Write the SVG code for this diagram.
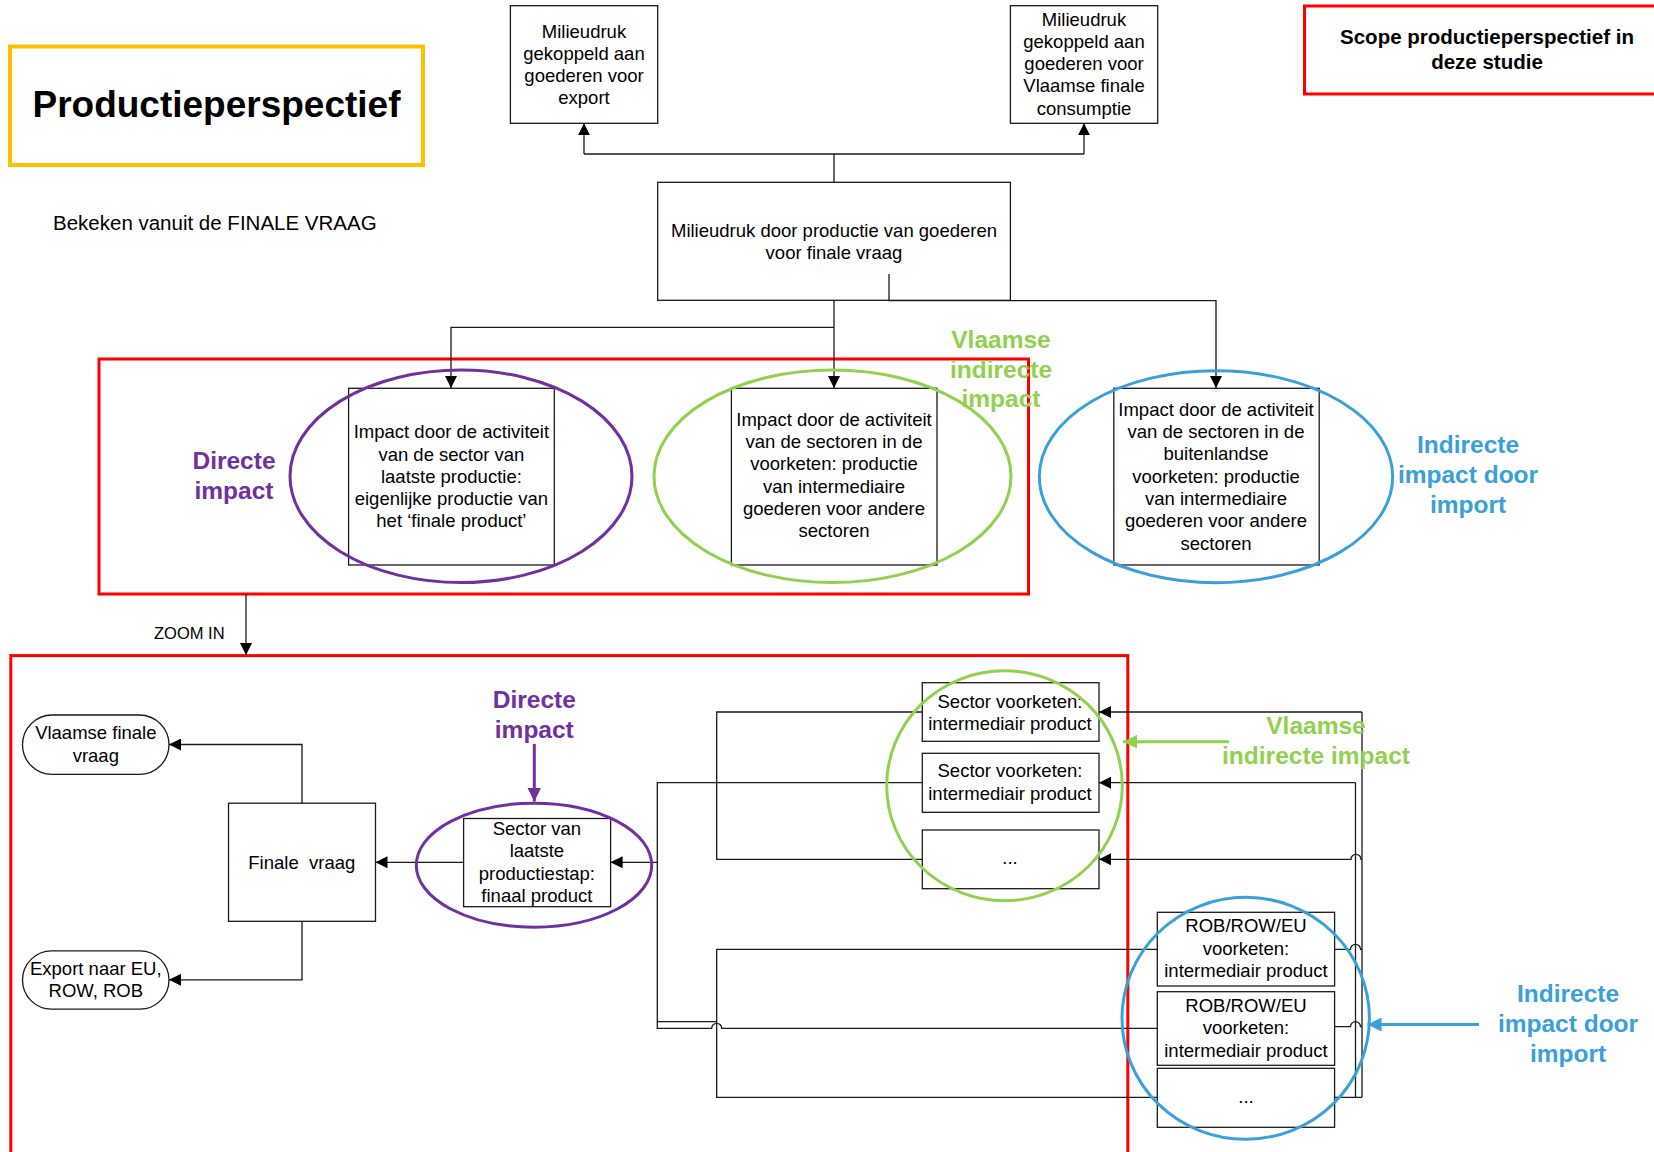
<svg xmlns="http://www.w3.org/2000/svg" width="1654" height="1152" viewBox="0 0 1654 1152">
<style>
.box{fill:#fff;stroke:#1a1a1a;stroke-width:1.3}
.t{font-family:"Liberation Sans",Arial,sans-serif;font-size:18.5px;text-anchor:middle;fill:#000}
.lb{font-family:"Liberation Sans",Arial,sans-serif;font-size:24.5px;font-weight:bold;text-anchor:middle}
.pu{fill:#7030A0}.gr{fill:#92D050}.bl{fill:#3AA0DA}
.ln{fill:none;stroke:#1a1a1a;stroke-width:1.3}
.red{fill:none;stroke:#FF0000;stroke-width:3}
.ell{fill:none;stroke-width:3}
</style>
<defs>
<marker id="ah" markerUnits="userSpaceOnUse" markerWidth="12" markerHeight="12" viewBox="0 0 10 10" refX="10" refY="5" orient="auto"><path d="M0,0 L10,5 L0,10 Z" fill="#000"/></marker>
<marker id="ahp" markerUnits="userSpaceOnUse" markerWidth="14" markerHeight="14" viewBox="0 0 10 10" refX="10" refY="5" orient="auto"><path d="M0,0 L10,5 L0,10 Z" fill="#7030A0"/></marker>
<marker id="ahg" markerUnits="userSpaceOnUse" markerWidth="14" markerHeight="14" viewBox="0 0 10 10" refX="10" refY="5" orient="auto"><path d="M0,0 L10,5 L0,10 Z" fill="#92D050"/></marker>
<marker id="ahb" markerUnits="userSpaceOnUse" markerWidth="14" markerHeight="14" viewBox="0 0 10 10" refX="10" refY="5" orient="auto"><path d="M0,0 L10,5 L0,10 Z" fill="#3AA0DA"/></marker>
</defs>
<rect width="1654" height="1152" fill="#fff"/>

<g id="title">
<rect x="10" y="46.5" width="413" height="118.5" fill="none" stroke="#FFC000" stroke-width="4"/>
<text x="216.5" y="117" style="font-family:'Liberation Sans',Arial,sans-serif;font-size:37px;font-weight:bold;text-anchor:middle">Productieperspectief</text>
</g>
<g id="subtitle">
<text x="53" y="230" style="font-family:'Liberation Sans',Arial,sans-serif;font-size:20.5px">Bekeken vanuit de FINALE VRAAG</text>
</g>
<g id="scope">
<rect x="1304.5" y="6" width="352" height="88" class="red"/>
<text x="1487" y="44" style="font-family:'Liberation Sans',Arial,sans-serif;font-size:20.5px;font-weight:bold;text-anchor:middle">Scope productieperspectief in</text>
<text x="1487" y="69" style="font-family:'Liberation Sans',Arial,sans-serif;font-size:20.5px;font-weight:bold;text-anchor:middle">deze studie</text>
</g>

<g id="scope-frame-top"><rect x="99" y="359" width="929.5" height="235" class="red"/></g>
<g id="scope-frame-bottom"><rect x="10.8" y="655.6" width="1117" height="510" class="red"/></g>

<g id="connectors">
<path class="ln" d="M834,182.3 V154 M584,154 H1084"/>
<path class="ln" d="M584,154 V123.3" marker-end="url(#ah)"/>
<path class="ln" d="M1084,154 V123.3" marker-end="url(#ah)"/>
<path class="ln" d="M834,300 V388" marker-end="url(#ah)"/>
<path class="ln" d="M834,327.3 H451 V388" marker-end="url(#ah)"/>
<path class="ln" d="M889,274 V300.7 H1216 V388" marker-end="url(#ah)"/>
<path class="ln" d="M246,594 V655" marker-end="url(#ah)"/>
<path class="ln" d="M302,803.2 V744.5 H169" marker-end="url(#ah)"/>
<path class="ln" d="M302,921.3 V979.8 H169" marker-end="url(#ah)"/>
<path class="ln" d="M463.6,862.3 H375.5" marker-end="url(#ah)"/>
<path class="ln" d="M657.3,862.3 H610.6" marker-end="url(#ah)"/>
<path class="ln" d="M922.3,782.7 H657.3 V1021.7 H716.7" stroke-width="2"/>
<path class="ln" d="M922.3,712 H716.7 V859.3 H922.3"/>
<path class="ln" d="M1157.3,949.3 H716.7 V1097.3 H1157.3"/>
<path class="ln" d="M657.3,1021.7 V1028.3 H711.7 a5,5 0 0 1 10,0 H1157.3"/>
<path class="ln" d="M1362,712 H1099" marker-end="url(#ah)"/>
<path class="ln" d="M1355.5,782.7 H1099" marker-end="url(#ah)"/>
<path class="ln" d="M1362,859.3 H1361 a5,5 0 0 0 -10,0 H1099" marker-end="url(#ah)"/>
<path class="ln" d="M1362,712 V1097.3 M1355.5,782.7 V1097.3 M1334.6,1097.3 H1362"/>
<path class="ln" d="M1334.6,949.3 H1350.5 a5,5 0 0 1 10,0 H1362"/>
<path class="ln" d="M1334.6,1026.7 H1350.5 a5,5 0 0 1 10,0 H1362"/>
<path d="M534.3,743.9 V801.5" fill="none" stroke="#7030A0" stroke-width="3" marker-end="url(#ahp)"/>
<path d="M1229,741.7 H1123.2" fill="none" stroke="#92D050" stroke-width="3" marker-end="url(#ahg)"/>
<path d="M1479,1024.5 H1367.5" fill="none" stroke="#3AA0DA" stroke-width="3" marker-end="url(#ahb)"/>
</g>

<g id="n-export">
<rect class="box" x="510.4" y="5.7" width="147.3" height="117.6"/>
<text class="t" x="584" y="37.5">Milieudruk</text>
<text class="t" x="584" y="59.8">gekoppeld aan</text>
<text class="t" x="584" y="82.1">goederen voor</text>
<text class="t" x="584" y="104.4">export</text>
</g>
<g id="n-consumptie">
<rect class="box" x="1010.4" y="5.7" width="147.3" height="117.6"/>
<text class="t" x="1084" y="25.5">Milieudruk</text>
<text class="t" x="1084" y="47.8">gekoppeld aan</text>
<text class="t" x="1084" y="70.1">goederen voor</text>
<text class="t" x="1084" y="92.4">Vlaamse finale</text>
<text class="t" x="1084" y="114.7">consumptie</text>
</g>
<g id="n-productie">
<rect class="box" x="657.7" y="182.3" width="352.7" height="118"/>
<text class="t" x="834" y="236.5">Milieudruk door productie van goederen</text>
<text class="t" x="834" y="258.8">voor finale vraag</text>
</g>
<path class="ln" d="M889,274 V300.7"/>

<g id="n-direct">
<rect class="box" x="348.6" y="388.3" width="205.7" height="176.7"/>
<text class="t" x="451.4" y="438.2">Impact door de activiteit</text>
<text class="t" x="451.4" y="460.5">van de sector van</text>
<text class="t" x="451.4" y="482.8">laatste productie:</text>
<text class="t" x="451.4" y="505.1">eigenlijke productie van</text>
<text class="t" x="451.4" y="527.4">het ‘finale product’</text>
<ellipse class="ell" cx="461" cy="476.3" rx="171" ry="106.3" stroke="#7030A0"/>
</g>
<g id="n-vlaams-indirect">
<rect class="box" x="731.4" y="388.3" width="205.6" height="176.7"/>
<text class="t" x="834" y="425.8">Impact door de activiteit</text>
<text class="t" x="834" y="448.1">van de sectoren in de</text>
<text class="t" x="834" y="470.4">voorketen: productie</text>
<text class="t" x="834" y="492.7">van intermediaire</text>
<text class="t" x="834" y="515">goederen voor andere</text>
<text class="t" x="834" y="537.3">sectoren</text>
<ellipse class="ell" cx="832.5" cy="476.3" rx="178.5" ry="106.3" stroke="#92D050"/>
</g>
<g id="n-import">
<rect class="box" x="1113.8" y="388.3" width="205.4" height="176.7"/>
<text class="t" x="1216" y="415.8">Impact door de activiteit</text>
<text class="t" x="1216" y="438.1">van de sectoren in de</text>
<text class="t" x="1216" y="460.4">buitenlandse</text>
<text class="t" x="1216" y="482.7">voorketen: productie</text>
<text class="t" x="1216" y="505">van intermediaire</text>
<text class="t" x="1216" y="527.3">goederen voor andere</text>
<text class="t" x="1216" y="549.6">sectoren</text>
<ellipse class="ell" cx="1216" cy="476.7" rx="176.7" ry="106" stroke="#3AA0DA"/>
</g>
<g id="lbl-direct-top"><text class="lb pu" x="234" y="469">Directe</text><text class="lb pu" x="234" y="498.5">impact</text></g>
<g id="lbl-vlaams-top"><text class="lb gr" x="1001" y="348">Vlaamse</text><text class="lb gr" x="1001" y="377.5">indirecte</text><text class="lb gr" x="1001" y="407">impact</text></g>
<g id="lbl-import-top"><text class="lb bl" x="1468" y="453.3">Indirecte</text><text class="lb bl" x="1468" y="483">impact door</text><text class="lb bl" x="1468" y="512.7">import</text></g>

<g id="lbl-zoom"><text x="189.3" y="638.5" style="font-family:'Liberation Sans',Arial,sans-serif;font-size:16.5px;text-anchor:middle">ZOOM IN</text></g>

<g id="n-vlaamse-finale-vraag">
<rect class="box" x="22.5" y="715" width="146.5" height="59.4" rx="29.7"/>
<text class="t" x="95.8" y="739.4">Vlaamse finale</text>
<text class="t" x="95.8" y="761.5">vraag</text>
</g>
<g id="n-export-eu">
<rect class="box" x="22.5" y="950.8" width="146.5" height="58.4" rx="29.2"/>
<text class="t" x="95.8" y="975.3">Export naar EU,</text>
<text class="t" x="95.8" y="997.3">ROW, ROB</text>
</g>
<g id="n-finale-vraag">
<rect class="box" x="228.5" y="803.2" width="147" height="118.1"/>
<text class="t" x="301.8" y="869.4">Finale&#160; vraag</text>
</g>
<g id="n-laatste">
<rect class="box" x="463.6" y="818.5" width="147" height="88.2"/>
<text class="t" x="536.9" y="834.5">Sector van</text>
<text class="t" x="536.9" y="857.2">laatste</text>
<text class="t" x="536.9" y="879.8">productiestap:</text>
<text class="t" x="536.9" y="902.4">finaal product</text>
<ellipse class="ell" cx="534" cy="865.2" rx="117.7" ry="62" stroke="#7030A0"/>
</g>
<g id="lbl-direct-bottom"><text class="lb pu" x="534.3" y="708.2">Directe</text><text class="lb pu" x="534.3" y="738">impact</text></g>

<g id="n-sector1">
<rect class="box" x="922.3" y="682.7" width="176.7" height="58.6"/>
<text class="t" x="1010" y="708.3">Sector voorketen:</text>
<text class="t" x="1010" y="730">intermediair product</text>
</g>
<g id="n-sector2">
<rect class="box" x="922.3" y="753.3" width="176.7" height="59"/>
<text class="t" x="1010" y="777.3">Sector voorketen:</text>
<text class="t" x="1010" y="800">intermediair product</text>
</g>
<g id="n-sector3">
<rect class="box" x="922.3" y="830" width="176.7" height="58.7"/>
<text class="t" x="1010" y="864">...</text>
</g>
<g id="ell-vlaams"><ellipse class="ell" cx="1004.5" cy="785.7" rx="117.8" ry="115" stroke="#92D050"/></g>
<g id="lbl-vlaams-bottom"><text class="lb gr" x="1316" y="734">Vlaamse</text><text class="lb gr" x="1316" y="764">indirecte impact</text></g>

<g id="n-rob1">
<rect class="box" x="1157.3" y="912.3" width="177.3" height="73.7"/>
<text class="t" x="1246" y="932.3">ROB/ROW/EU</text>
<text class="t" x="1246" y="955">voorketen:</text>
<text class="t" x="1246" y="977.3">intermediair product</text>
</g>
<g id="n-rob2">
<rect class="box" x="1157.3" y="991.7" width="177.3" height="73.6"/>
<text class="t" x="1246" y="1011.7">ROB/ROW/EU</text>
<text class="t" x="1246" y="1034.3">voorketen:</text>
<text class="t" x="1246" y="1056.7">intermediair product</text>
</g>
<g id="n-rob3">
<rect class="box" x="1157.3" y="1068.3" width="177.3" height="59"/>
<text class="t" x="1246" y="1102.7">...</text>
</g>
<g id="ell-import"><ellipse class="ell" cx="1245.7" cy="1018.3" rx="123.7" ry="121" stroke="#3AA0DA"/></g>
<g id="lbl-import-bottom"><text class="lb bl" x="1568" y="1002.3">Indirecte</text><text class="lb bl" x="1568" y="1032.3">impact door</text><text class="lb bl" x="1568" y="1061.7">import</text></g>
</svg>
